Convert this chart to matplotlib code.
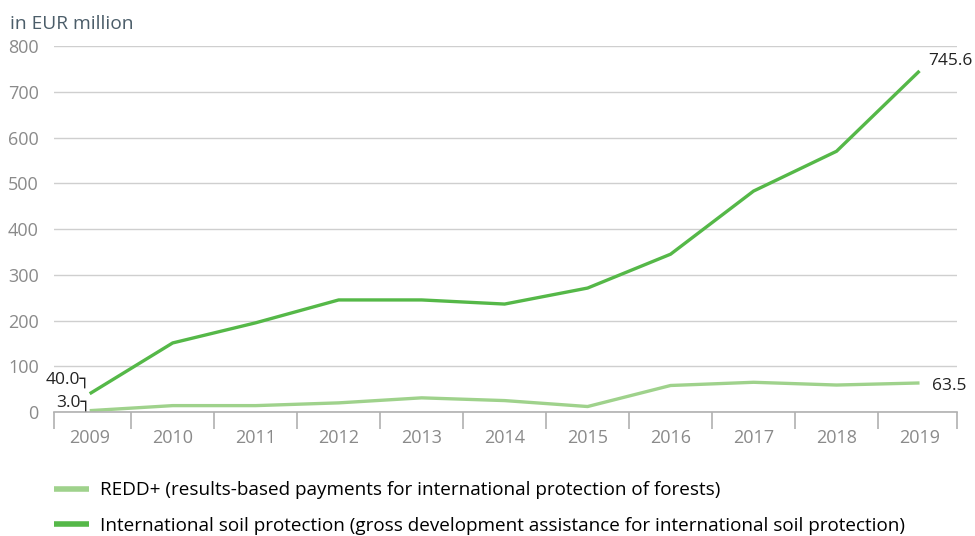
import matplotlib

matplotlib.use("Agg")
import matplotlib.pyplot as plt  # noqa: E402
from matplotlib.ticker import FixedLocator  # noqa: E402

years = ["2009", "2010", "2011", "2012", "2013", "2014", "2015", "2016", "2017", "2018", "2019"]
redd = [3.0, 14, 14, 20, 31, 25, 12, 58, 65, 59, 63.5]
soil = [40.0, 151, 195, 245, 245, 236, 271, 345, 483, 570, 745.6]

redd_label = "REDD+ (results-based payments for international protection of forests)"
soil_label = "International soil protection (gross development assistance for international soil protection)"

light_green = "#9fd28c"
dark_green = "#55b848"
tick_grey = "#8a8a8a"

plt.rcParams["font.family"] = ["Open Sans", "DejaVu Sans"]

fig = plt.figure(figsize=(9.75, 5.36), dpi=100)
ax = fig.add_axes([0.0554, 0.2313, 0.926, 0.6828])

x = list(range(len(years)))
ax.plot(x, redd, color=light_green, lw=2.4, label=redd_label, solid_capstyle="butt")
ax.plot(x, soil, color=dark_green, lw=2.4, label=soil_label, solid_capstyle="butt")

ax.set_xlim(-0.43, 10.45)
ax.set_ylim(0, 800)

# horizontal grid
ax.set_yticks(range(0, 801, 100))
ax.yaxis.grid(True, color="#cfcfcf", lw=1)
ax.set_axisbelow(True)
ax.tick_params(axis="y", length=0, pad=11, labelsize=13, labelcolor=tick_grey)

# year labels at band centres, tick marks at band boundaries
ax.set_xticks(x)
ax.set_xticklabels(years)
ax.tick_params(axis="x", which="major", length=0, pad=12, labelsize=13, labelcolor=tick_grey)
bounds = [-0.43] + [i + 0.5 for i in range(len(years) - 1)] + [10.45]
ax.xaxis.set_minor_locator(FixedLocator(bounds))
ax.tick_params(axis="x", which="minor", length=12, width=1.2, color="#b0b0b0", direction="out")

for side in ["top", "right", "left"]:
    ax.spines[side].set_visible(False)
ax.spines["bottom"].set_color("#b0b0b0")
ax.spines["bottom"].set_linewidth(1.2)

# value labels
lab_kw = dict(fontsize=12.5, color="#222222", textcoords="offset pixels")
ax.annotate(f"{soil[0]:.1f}\u2510", (0, soil[0]), xytext=(1, 14), ha="right", va="center", **lab_kw)
ax.annotate(f"{redd[0]:.1f}\u2510", (0, redd[0]), xytext=(1, 8), ha="right", va="center", **lab_kw)
ax.annotate(f"{soil[-1]:.1f}", (10, soil[-1]), xytext=(9, 10), ha="left", va="center", **lab_kw)
ax.annotate(f"{redd[-1]:.1f}", (10, redd[-1]), xytext=(12, -3), ha="left", va="center", **lab_kw)

fig.text(0.010, 0.955, "in EUR million", fontsize=13.8, color="#4b5d69", ha="left", va="center")

leg = fig.legend(loc="lower left", bbox_to_anchor=(0.038, -0.03), frameon=False,
                 fontsize=13.6, handlelength=1.85, handletextpad=0.6, labelspacing=0.95)
for line in leg.get_lines():
    line.set_linewidth(4)

fig.savefig("out.png", dpi=100)
